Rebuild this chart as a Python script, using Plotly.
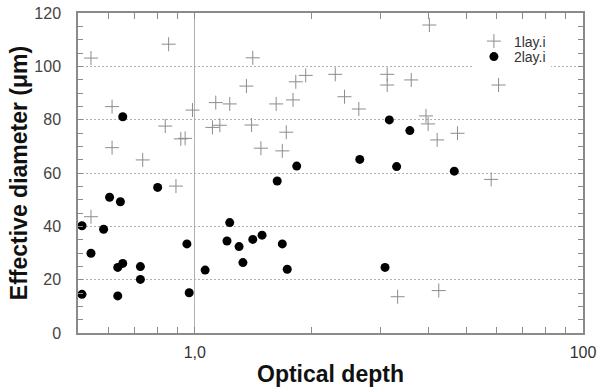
import numpy as np
import plotly.graph_objects as go

# 1lay.i (crosses)
x1 = [0.54, 0.856, 0.612, 0.986, 0.839, 0.92, 0.944, 0.612, 0.734, 1.358,
      1.132, 1.23, 1.11, 1.16, 1.41, 1.93, 1.82, 2.30, 2.43, 2.645,
      3.13, 3.13, 3.61, 1.62, 1.79, 1.40, 1.72, 1.48, 1.68, 4.02,
      6.06, 3.94, 3.99, 4.21, 4.75, 5.80, 4.25, 3.33, 0.894, 0.54]
y1 = [103.1, 108.3, 84.9, 83.6, 77.6, 72.8, 73.0, 69.5, 64.9, 92.6,
      86.4, 85.9, 77.1, 77.9, 103.2, 96.6, 94.2, 97.0, 88.6, 84.0,
      97.0, 93.0, 94.9, 85.9, 87.4, 78.0, 75.3, 69.3, 68.3, 115.5,
      93.0, 81.4, 78.4, 72.4, 74.9, 57.6, 15.9, 13.6, 55.1, 43.6]

# 2lay.i (filled dots)
x2 = [0.652, 3.17, 3.58, 2.66, 1.83, 3.31, 4.66, 1.63, 1.41, 1.49,
      1.68, 1.73, 3.09, 0.802, 0.603, 0.643, 0.512, 0.582, 1.23, 0.954,
      1.21, 1.30, 1.33, 0.54, 0.633, 0.652, 0.724, 0.724, 1.063, 0.512,
      0.633, 0.967]
y2 = [81.1, 79.9, 75.9, 65.1, 62.6, 62.4, 60.7, 57.0, 35.1, 36.7,
      33.4, 23.9, 24.6, 54.6, 50.9, 49.2, 40.2, 38.9, 41.4, 33.4,
      34.5, 32.4, 26.4, 29.9, 24.6, 26.1, 24.9, 20.1, 23.6, 14.5,
      13.9, 15.1]

x_tickvals = [1, 10]
x_ticktext = ["1,0", "100"]
x_minor = [0.6, 0.7, 0.8, 0.9, 2, 3, 4, 5, 6, 7, 8, 9]

FONT = "Liberation Sans, Arial, sans-serif"
AX = "#8a8a8a"
XR = [np.log10(0.5), 1]
YR = [0, 120]

fig = go.Figure()
fig.add_trace(go.Scatter(
    x=x1, y=y1, mode="markers", name="1lay.i", legend="legend2", showlegend=True,
    marker=dict(symbol="cross-thin", size=10, line=dict(width=1, color="#8c8c8c"), color="#8c8c8c"),
))
fig.add_trace(go.Scatter(
    x=x2, y=y2, mode="markers", name="2lay.i", legend="legend", showlegend=True,
    marker=dict(symbol="circle", size=9, color="#000000"),
))
# empty trace so the mirrored tick axes (top / right) exist
fig.add_trace(go.Scatter(x=[], y=[], xaxis="x2", yaxis="y2", showlegend=False, hoverinfo="skip"))

fig.update_layout(
    width=600, height=387,
    margin=dict(l=78, r=17, t=13, b=54, autoexpand=False),
    paper_bgcolor="white", plot_bgcolor="white",
    font=dict(family=FONT, color="#333"),
    showlegend=True,
    legend=dict(x=0.784, y=(333 - 57) / 320, xanchor="left", yanchor="middle",
                bgcolor="white", font=dict(size=14, color="#333"), borderwidth=0),
    legend2=dict(x=0.784, y=(333 - 41.5) / 320, xanchor="left", yanchor="middle",
                 bgcolor="rgba(0,0,0,0)", font=dict(size=14, color="#333"), borderwidth=0),
    xaxis=dict(
        type="log", range=XR, automargin=False,
        tickmode="array", tickvals=x_tickvals, ticktext=x_ticktext,
        ticks="inside", ticklen=6, tickcolor=AX, tickwidth=1,
        showline=True, linecolor=AX, linewidth=1.5, mirror=True,
        showgrid=True, gridcolor="#b0b0b0", gridwidth=1, zeroline=False,
        minor=dict(tickmode="array", tickvals=x_minor, ticks="inside", ticklen=6,
                   tickcolor=AX, tickwidth=1, showgrid=False),
        tickfont=dict(size=16, color="#333"), ticklabelstandoff=4,
        title=dict(text="Optical depth", font=dict(size=23, color="#111", weight="bold"), standoff=10),
    ),
    yaxis=dict(
        range=YR, dtick=20, tick0=0, automargin=False,
        ticks="inside", ticklen=5, tickcolor=AX, tickwidth=1,
        showline=True, linecolor=AX, linewidth=1.5, mirror=True,
        showgrid=True, gridcolor="#b0b0b0", gridwidth=1, griddash="2px,2px", zeroline=False,
        minor=dict(dtick=5, ticks="inside", ticklen=5, tickcolor=AX, tickwidth=1, showgrid=False),
        tickfont=dict(size=16, color="#444"), ticklabelstandoff=12,
        title=dict(text="Effective diameter (μm)", font=dict(size=23, color="#111", weight="bold"), standoff=0),
    ),
    xaxis2=dict(
        type="log", range=XR, overlaying="x", side="top", anchor="y2", automargin=False,
        tickmode="array", tickvals=x_tickvals, showticklabels=False,
        ticks="inside", ticklen=6, tickcolor=AX, tickwidth=1,
        showline=False, showgrid=False, zeroline=False,
        minor=dict(tickmode="array", tickvals=x_minor, ticks="inside", ticklen=6,
                   tickcolor=AX, tickwidth=1, showgrid=False),
    ),
    yaxis2=dict(
        range=YR, dtick=20, tick0=0, overlaying="y", side="right", anchor="x2", automargin=False,
        ticks="inside", ticklen=5, tickcolor=AX, tickwidth=1, showticklabels=False,
        showline=False, showgrid=False, zeroline=False,
        minor=dict(dtick=5, ticks="inside", ticklen=5, tickcolor=AX, tickwidth=1, showgrid=False),
    ),
)

fig.write_html("out.html", config={"displayModeBar": False},
               post_script="document.body.style.margin='0';document.body.style.padding='0';")
